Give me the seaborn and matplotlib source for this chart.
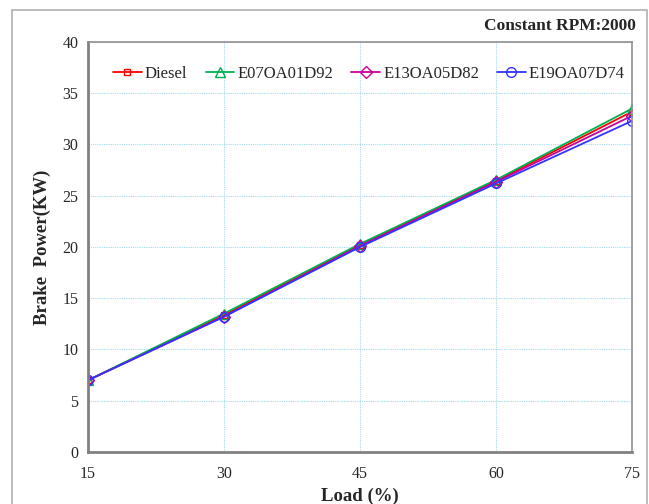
import numpy as np
import pandas as pd
import matplotlib
matplotlib.use("Agg")
import matplotlib.pyplot as plt
import seaborn as sns
from matplotlib.patches import Rectangle

# data
load = [15, 30, 45, 60, 75]
diesel = [7.0, 13.35, 20.2, 26.45, 33.2]
e07 = [7.0, 13.5, 20.3, 26.55, 33.5]
e13 = [7.0, 13.2, 20.1, 26.35, 32.8]
e19 = [7.0, 13.2, 20.0, 26.2, 32.3]

series_names = ["Diesel", "E07OA01D92", "E13OA05D82", "E19OA07D74"]
series_vals = [diesel, e07, e13, e19]
colors = ["#ff0000", "#00b050", "#cc0099", "#3333ff"]
markers = ["s", "^", "D", "o"]
msizes = [5, 7, 6, 7]

sns.set_style("white")
plt.rcParams["font.family"] = ["Liberation Serif", "DejaVu Serif"]

fig = plt.figure(figsize=(6.49, 5.04), dpi=100)
ax = fig.add_axes([0.1356, 0.1032, 0.8382, 0.8135])

# outer frame of the figure
fig.patches.append(Rectangle((12 / 649, -0.05), 635 / 649, 1.05 - 10 / 504,
                             transform=fig.transFigure, fill=False,
                             edgecolor="#b0b0b0", linewidth=1.2))

for name, vals, c, m, ms in zip(series_names, series_vals, colors, markers, msizes):
    df = pd.DataFrame({"load": load, "power": vals})
    sns.lineplot(data=df, x="load", y="power", ax=ax, color=c, marker=m,
                 markersize=ms, markerfacecolor="none", markeredgecolor=c,
                 markeredgewidth=1.0, linewidth=1.3, label=name)

ax.set_xlim(15, 75)
ax.set_ylim(0, 40)
ax.set_xticks(load)
ax.set_yticks(np.arange(0, 41, 5))
ax.grid(True, color="#a6d8e8", linestyle=(0, (1, 1)), linewidth=0.8)
ax.set_axisbelow(True)

for side in ["left", "bottom"]:
    ax.spines[side].set_color("#808080")
    ax.spines[side].set_linewidth(2.0)
for side in ["top", "right"]:
    ax.spines[side].set_color("#909090")
    ax.spines[side].set_linewidth(1.2)

ax.tick_params(axis="both", direction="out", length=4, width=1, color="#808080",
               labelsize=11.5, pad=3)
ax.tick_params(axis="x", pad=6)

ax.set_xlabel("Load (%)", fontsize=13.5, fontweight="bold", labelpad=4)
ax.set_ylabel("Brake  Power(KW)", fontsize=13.5, fontweight="bold", labelpad=8)
ax.text(1.007, 1.02, "Constant RPM:2000", transform=ax.transAxes, ha="right",
        va="bottom", fontsize=12.5, fontweight="bold")

ax.legend(loc="upper left", bbox_to_anchor=(0.034, 0.957), ncol=4, frameon=False,
          fontsize=12, handlelength=1.7, handletextpad=0.2, columnspacing=1.1,
          borderaxespad=0)

fig.savefig("out.png", dpi=100)
